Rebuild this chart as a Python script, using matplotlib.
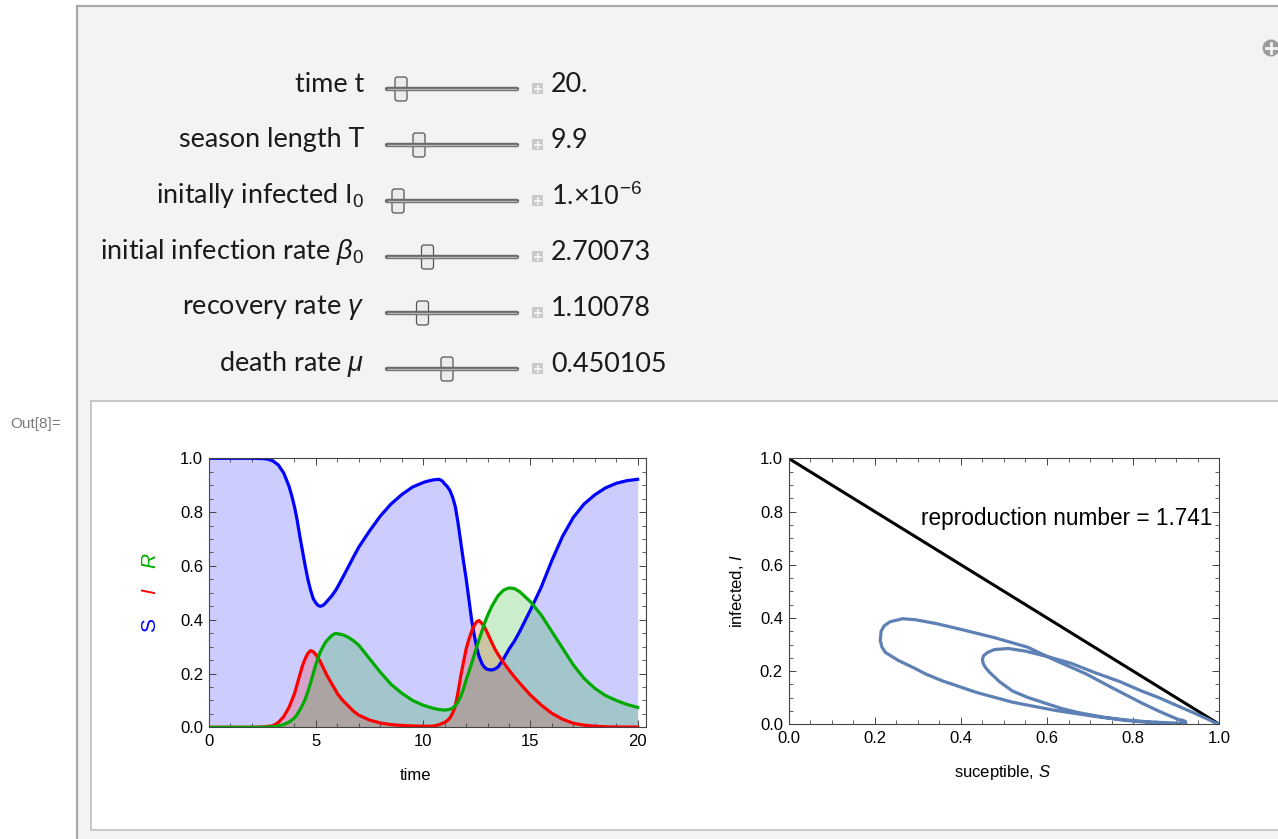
import matplotlib
matplotlib.use('Agg')
import matplotlib.pyplot as plt
from matplotlib.patches import Rectangle, FancyBboxPatch, Circle
from matplotlib.ticker import MultipleLocator, FormatStrFormatter

plt.rcParams['font.family'] = ['Liberation Sans', 'DejaVu Sans']
plt.rcParams['mathtext.fontset'] = 'custom'
plt.rcParams['mathtext.rm'] = 'Liberation Sans'
plt.rcParams['mathtext.it'] = 'Liberation Sans:italic'

# SIR solution
t = [0, 1, 2, 2.5, 2.75, 3, 3.25, 3.5, 3.75, 3.875, 4, 4.125, 4.25, 4.375, 4.5,
     4.625, 4.75, 4.875, 5, 5.1, 5.2, 5.3, 5.4, 5.5, 5.75, 5.9, 6, 6.25, 6.5,
     6.75, 7, 7.5, 8, 8.5, 9, 9.5, 10, 10.25, 10.5, 10.75, 10.9, 11, 11.125,
     11.25, 11.375, 11.5, 11.625, 11.75, 11.875, 12, 12.125, 12.25, 12.375,
     12.5, 12.6, 12.75, 12.875, 13, 13.2, 13.35, 13.5, 13.75, 14, 14.25, 14.5,
     15, 15.5, 16, 16.5, 17, 17.5, 18, 18.5, 19, 19.5, 20]
S = [1.0, 1.0, 1.0, 0.999, 0.997, 0.99, 0.975, 0.945, 0.895, 0.86, 0.82, 0.77,
     0.71, 0.655, 0.60, 0.55, 0.51, 0.478, 0.462, 0.453, 0.450, 0.452, 0.458,
     0.467, 0.49, 0.507, 0.52, 0.557, 0.595, 0.633, 0.67, 0.73, 0.785, 0.83,
     0.865, 0.893, 0.91, 0.916, 0.92, 0.922, 0.915, 0.905, 0.895, 0.88, 0.855,
     0.82, 0.76, 0.69, 0.62, 0.555, 0.48, 0.405, 0.345, 0.295, 0.265, 0.235,
     0.222, 0.215, 0.213, 0.217, 0.225, 0.255, 0.29, 0.32, 0.356, 0.436, 0.52,
     0.62, 0.71, 0.78, 0.83, 0.864, 0.89, 0.907, 0.917, 0.922]
I = [0.0, 0.0, 0.0, 0.001, 0.003, 0.006, 0.018, 0.04, 0.075, 0.10, 0.125,
     0.16, 0.195, 0.23, 0.255, 0.275, 0.285, 0.281, 0.27, 0.258, 0.245, 0.228,
     0.212, 0.195, 0.16, 0.14, 0.125, 0.10, 0.08, 0.06, 0.045, 0.027, 0.016,
     0.01, 0.007, 0.005, 0.004, 0.004, 0.005, 0.01, 0.015, 0.018, 0.025, 0.035,
     0.053, 0.08, 0.13, 0.19, 0.24, 0.29, 0.325, 0.355, 0.378, 0.393, 0.397,
     0.385, 0.37, 0.35, 0.315, 0.29, 0.27, 0.24, 0.213, 0.188, 0.164, 0.12,
     0.083, 0.052, 0.03, 0.015, 0.008, 0.004, 0.002, 0.001, 0.001, 0.001]
R = [0.0, 0.0, 0.0, 0.0, 0.001, 0.002, 0.005, 0.01, 0.02, 0.027, 0.035, 0.048,
     0.065, 0.083, 0.105, 0.133, 0.165, 0.20, 0.235, 0.258, 0.28, 0.295, 0.31,
     0.322, 0.342, 0.349, 0.348, 0.344, 0.335, 0.322, 0.305, 0.255, 0.205,
     0.16, 0.127, 0.10, 0.082, 0.076, 0.07, 0.066, 0.065, 0.064, 0.065, 0.067,
     0.072, 0.08, 0.095, 0.115, 0.142, 0.175, 0.205, 0.235, 0.268, 0.30, 0.325,
     0.36, 0.39, 0.415, 0.45, 0.47, 0.49, 0.51, 0.518, 0.516, 0.504, 0.467,
     0.418, 0.356, 0.294, 0.232, 0.182, 0.145, 0.118, 0.10, 0.085, 0.074]

# threshold line S + I = 1 in the phase plane
boundary_s = [0.0, 1.0]
boundary_i = [1.0, 0.0]
repro_number = 1.741

slider_labels = ['time t', 'season length T', r'initally infected $\mathrm{I}_0$',
                 r'initial infection rate $\beta_0$', r'recovery rate $\gamma$',
                 r'death rate $\mu$']
slider_values = ['20.', '9.9', r'1.$\times\mathrm{10}^{-6}$', '2.70073', '1.10078', '0.450105']
slider_thumb = [401, 419, 398, 427.5, 422.5, 447]

W, H = 1278, 839
fig = plt.figure(figsize=(W / 100, H / 100), dpi=100)
fig.patch.set_facecolor('white')

# background layer in pixel coordinates (y down)
bg = fig.add_axes([0, 0, 1, 1])
bg.set_xlim(0, W)
bg.set_ylim(H, 0)
bg.axis('off')

bg.add_patch(Rectangle((77, 5.5), 1300, 900, facecolor='#f3f3f3', edgecolor='#a9a9a9', lw=1.6))
bg.add_patch(Rectangle((90.5, 400.5), 1300, 429.5, facecolor='white', edgecolor='#c3c3c3', lw=1.3))
bg.text(61, 424, 'Out[8]=', ha='right', va='center', fontsize=11, color='#7a7a7a')

# little "+" circle at top right
bg.add_patch(Circle((1271, 48), 8.5, facecolor='#9c9c9c', edgecolor='none'))
bg.plot([1266, 1276], [48, 48], color='#f3f3f3', lw=2)
bg.plot([1271, 1271], [43, 53], color='#f3f3f3', lw=2)

# controls
ui_font = ['Lato', 'DejaVu Sans']
probe = bg.text(0, 0, 'season length T', fontsize=20, family=ui_font)
fig.canvas.draw()
ui_size = 20 * 186 / probe.get_window_extent(fig.canvas.get_renderer()).width
probe.remove()

for k, (lab, val, thumb) in enumerate(zip(slider_labels, slider_values, slider_thumb)):
    yc = 84 + 56 * k
    ytrack = yc + 5
    bg.text(364, yc, lab, ha='right', va='center', fontsize=ui_size, family=ui_font, color='#1a1a1a')
    bg.plot([387, 517], [ytrack, ytrack], color='#6a6a6a', lw=3.2, solid_capstyle='round')
    bg.plot([388, 516], [ytrack, ytrack], color='#b5b5b5', lw=1.0)
    bg.add_patch(FancyBboxPatch((thumb - 5, ytrack - 11), 10, 22,
                                boxstyle='round,pad=1,rounding_size=2.5',
                                facecolor='#ececec', edgecolor='#555555', lw=0.9))
    bg.add_patch(Rectangle((532, ytrack - 6), 11, 11, facecolor='#c9c9c9', edgecolor='none'))
    bg.plot([534.5, 540.5], [ytrack - 0.5, ytrack - 0.5], color='white', lw=1.1)
    bg.plot([537.5, 537.5], [ytrack - 3.5, ytrack + 2.5], color='white', lw=1.1)
    bg.text(551, yc, val, ha='left', va='center', fontsize=ui_size, family=ui_font, color='#1a1a1a')


def px_axes(left, top, right, bottom):
    return fig.add_axes([left / W, (H - bottom) / H, (right - left) / W, (bottom - top) / H])


def style(ax):
    for sp in ax.spines.values():
        sp.set_color('#444444')
        sp.set_linewidth(0.8)
    ax.tick_params(which='both', direction='in', top=True, right=True,
                   colors='#444444', labelcolor='black', labelsize=12)
    ax.tick_params(which='major', length=5, width=0.7)
    ax.tick_params(which='minor', length=2.8, width=0.6)
    ax.tick_params(axis='x', pad=5)
    ax.tick_params(axis='y', pad=4)


blue, red, green = '#0000ff', '#ff0000', '#00aa00'

# time series
ax1 = px_axes(208.7, 458.3, 646, 727.3)
ax1.fill_between(t, 0, S, color=blue, alpha=0.2, lw=0)
ax1.fill_between(t, 0, I, color=red, alpha=0.2, lw=0)
ax1.fill_between(t, 0, R, color=green, alpha=0.2, lw=0)
ax1.plot(t, S, color=blue, lw=2.3, solid_joinstyle='round')
ax1.plot(t, I, color=red, lw=2.3, solid_joinstyle='round')
ax1.plot(t, R, color=green, lw=2.3, solid_joinstyle='round')
ax1.set_xlim(0, 20.39)
ax1.set_ylim(0, 1)
ax1.xaxis.set_major_locator(MultipleLocator(5))
ax1.xaxis.set_minor_locator(MultipleLocator(1))
ax1.yaxis.set_major_locator(MultipleLocator(0.2))
ax1.yaxis.set_minor_locator(MultipleLocator(0.05))
ax1.yaxis.set_major_formatter(FormatStrFormatter('%.1f'))
style(ax1)

bg.text(416, 776, 'time', ha='center', va='center', fontsize=12)
bg.text(150, 625, 'S', ha='center', va='center', rotation=90, fontsize=15, color=blue)
bg.text(150, 591, 'I', ha='center', va='center', rotation=90, fontsize=15, color=red, style='italic')
bg.text(150, 560, 'R', ha='center', va='center', rotation=90, fontsize=15, color=green, style='italic')

# phase plane
ax2 = px_axes(788.5, 458.3, 1219.3, 724.3)
ax2.plot(boundary_s, boundary_i, color='black', lw=2.2)
ax2.plot(S, I, color='#5e81b5', lw=2.3, solid_joinstyle='round')
ax2.set_xlim(0, 1)
ax2.set_ylim(0, 1)
for axis in (ax2.xaxis, ax2.yaxis):
    axis.set_major_locator(MultipleLocator(0.2))
    axis.set_minor_locator(MultipleLocator(0.05))
    axis.set_major_formatter(FormatStrFormatter('%.1f'))
style(ax2)
ax2.text(0.983, 0.774, f'reproduction number = {repro_number}', ha='right', va='center', fontsize=16.3)

bg.text(1003, 773, r'suceptible, $\mathit{S}$', ha='center', va='center', fontsize=12)
bg.text(737, 591, r'infected, $\mathit{I}$', ha='center', va='center', rotation=90, fontsize=12)

fig.savefig('out.png', dpi=100)
